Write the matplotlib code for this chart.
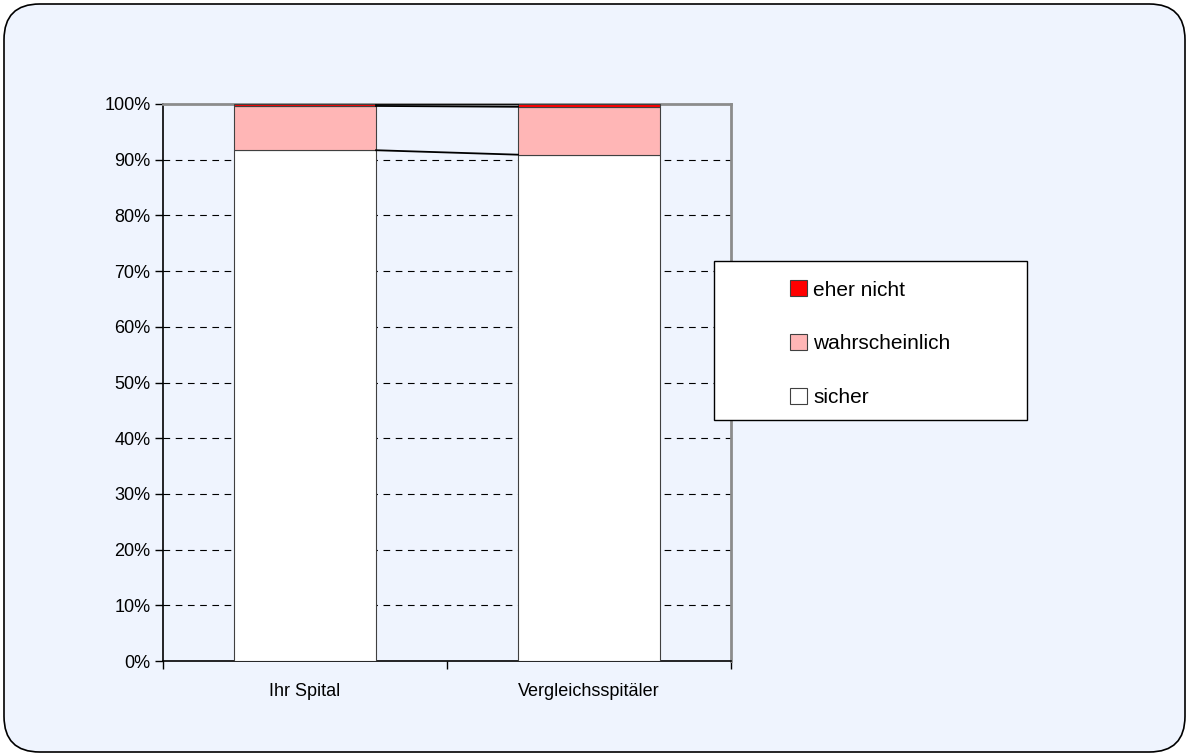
import numpy as np
import matplotlib.pyplot as plt
from matplotlib.patches import FancyBboxPatch, Rectangle
from matplotlib import font_manager

# data (percent)
categories = ["Ihr Spital", "Vergleichsspitäler"]
series_names = ["sicher", "wahrscheinlich", "eher nicht"]
sicher = [91.7, 90.9]
wahrscheinlich = [7.95, 8.6]
eher_nicht = [0.35, 0.5]
colors = ["#FFFFFF", "#FFB6B6", "#FF0000"]
yticks = list(range(0, 101, 10))

names = {f.name for f in font_manager.fontManager.ttflist}
fam = "Liberation Sans Narrow" if "Liberation Sans Narrow" in names else "Liberation Sans"
plt.rcParams["font.family"] = [fam, "DejaVu Sans"]

bg = "#EFF4FE"
W, H = 1189, 755
fig = plt.figure(figsize=(W / 100, H / 100), dpi=100)
fig.patch.set_facecolor("white")

# rounded chart area
frame = FancyBboxPatch((4 / W, 3 / H), 1181 / W, 748 / H,
                       boxstyle="round,pad=0,rounding_size=0.03",
                       transform=fig.transFigure, facecolor=bg,
                       edgecolor="black", linewidth=1.2,
                       mutation_aspect=W / H, zorder=-5)
fig.patches.append(frame)

ax = fig.add_axes([163 / W, 94 / H, 568 / W, 557 / H])
ax.set_facecolor(bg)
ax.set_zorder(2)

x = np.arange(len(categories))
width = 0.5
data = [sicher, wahrscheinlich, eher_nicht]
bottom = np.zeros(len(categories))
for vals, c, name in zip(data, colors, series_names):
    ax.bar(x, vals, width, bottom=bottom, color=c, edgecolor="#404040",
           linewidth=0.8, label=name, zorder=3)
    bottom = bottom + np.array(vals)
    # series lines between the bars
    ax.plot([x[0] + width / 2, x[1] - width / 2], [bottom[0], bottom[1]],
            color="black", linewidth=1.3, zorder=4)

ax.set_xlim(-0.5, 1.5)
ax.set_ylim(0, 100)
ax.set_yticks(yticks)
ax.set_yticklabels([f"{t}%" for t in yticks], fontsize=13)
ax.set_xticks([-0.5, 0.5, 1.5])
ax.set_xticklabels([])
ax.set_xticks(x, minor=True)
ax.set_xticklabels(categories, minor=True, fontsize=13)
ax.tick_params(axis="x", which="minor", length=0, pad=16)
ax.tick_params(axis="x", which="major", length=6, width=1, direction="out")
ax.tick_params(axis="y", length=6, width=1, direction="out", pad=3)

for t in yticks[1:-1]:
    ax.axhline(t, color="black", linestyle=(0, (6, 5)), linewidth=0.8, zorder=1)

ax.spines["left"].set_color("black")
ax.spines["bottom"].set_color("black")
ax.spines["left"].set_linewidth(1.2)
ax.spines["bottom"].set_linewidth(1.2)
ax.spines["top"].set_color("#8C8C8C")
ax.spines["right"].set_color("#8C8C8C")
ax.spines["top"].set_linewidth(2)
ax.spines["right"].set_linewidth(2)

# legend box
fig.patches.append(Rectangle((714 / W, (H - 420) / H), 313 / W, 159 / H,
                             transform=fig.transFigure, facecolor="white",
                             edgecolor="black", linewidth=1, zorder=5))
handles, labels = ax.get_legend_handles_labels()
leg = fig.legend(handles[::-1], labels[::-1], loc="upper left",
                 bbox_to_anchor=(780 / W, (H - 270) / H), frameon=False,
                 fontsize=15, handlelength=0.8, handleheight=0.8,
                 handletextpad=0.3, labelspacing=1.66, borderpad=0)
leg.set_zorder(6)

fig.savefig("out.png", dpi=100, facecolor="white")
